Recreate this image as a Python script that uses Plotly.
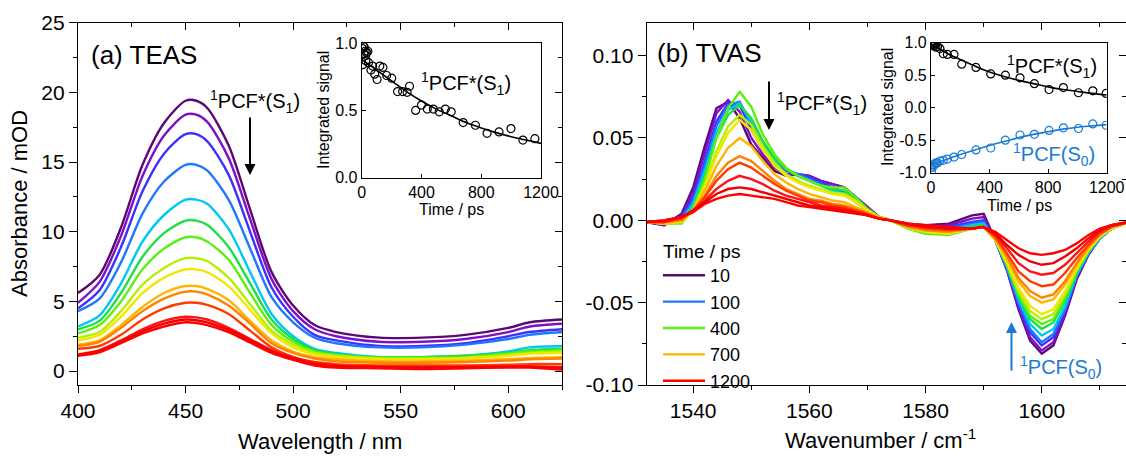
import plotly.graph_objects as go

W, H = 1126, 458
def px(x): return x / W
def py(y): return 1 - y / H

FONT = "Liberation Sans, Arial, sans-serif"

# ---------------- data: (a) TEAS ----------------
wavelength = [400, 410, 420, 430, 440, 450, 455, 460, 470, 480, 490, 500, 510, 520, 540, 560, 580, 600, 610, 625]
times = [10, 20, 50, 100, 200, 300, 400, 500, 600, 700, 800, 900, 1000, 1100, 1200]
legend_times = [10, 100, 400, 700, 1200]
colors = ['#5c0a72', '#8010c8', '#3c32ff', '#1e78ff', '#00c8f0', '#1ede46', '#5af014', '#b4f000',
          '#f5e600', '#ffb400', '#ff8200', '#ff3c00', '#ff1414', '#f00000', '#ff0000']

teas_10 = [5.6, 6.9, 10.3, 14.8, 17.8, 19.4, 19.4, 18.9, 16.2, 11.6, 7.1, 4.7, 3.3, 2.8, 2.4, 2.4, 2.6, 3.1, 3.5, 3.7]
teas_20 = [4.9, 6.4, 9.7, 14.0, 16.9, 18.4, 18.4, 17.9, 15.3, 10.9, 6.6, 4.3, 3.0, 2.5, 2.1, 2.1, 2.3, 2.8, 3.2, 3.4]
teas_50 = [4.5, 5.8, 8.9, 12.9, 15.6, 17.0, 17.0, 16.5, 14.1, 10.0, 6.0, 3.9, 2.6, 2.2, 1.8, 1.8, 2.0, 2.5, 2.8, 3.0]
teas_100 = [4.3, 5.2, 7.8, 11.3, 13.6, 14.8, 14.8, 14.4, 12.3, 8.8, 5.3, 3.5, 2.4, 2.0, 1.7, 1.7, 1.9, 2.3, 2.6, 2.8]
teas_200 = [3.2, 4.0, 6.3, 9.3, 11.2, 12.3, 12.3, 12.0, 10.2, 7.1, 4.1, 2.5, 1.6, 1.3, 1.0, 1.0, 1.1, 1.4, 1.7, 1.8]
teas_300 = [3.0, 3.6, 5.6, 8.2, 9.9, 10.8, 10.8, 10.5, 8.9, 6.3, 3.7, 2.3, 1.5, 1.2, 1.0, 1.0, 1.1, 1.3, 1.5, 1.6]
teas_400 = [2.7, 3.3, 5.0, 7.3, 8.8, 9.6, 9.6, 9.3, 8.0, 5.6, 3.3, 2.1, 1.4, 1.15, 0.95, 0.95, 1.0, 1.25, 1.4, 1.5]
teas_500 = [2.4, 2.8, 4.3, 6.2, 7.4, 8.1, 8.1, 7.9, 6.7, 4.8, 2.9, 1.9, 1.3, 1.1, 0.9, 0.9, 0.95, 1.15, 1.3, 1.4]
teas_600 = [2.2, 2.6, 3.9, 5.6, 6.7, 7.3, 7.3, 7.1, 6.1, 4.4, 2.7, 1.7, 1.2, 1.0, 0.85, 0.85, 0.9, 1.1, 1.25, 1.3]
teas_700 = [1.9, 2.2, 3.3, 4.6, 5.6, 6.1, 6.1, 5.9, 5.1, 3.6, 2.2, 1.4, 1.0, 0.85, 0.7, 0.7, 0.75, 0.85, 0.95, 1.0]
teas_800 = [1.8, 2.1, 3.1, 4.3, 5.2, 5.7, 5.7, 5.5, 4.7, 3.4, 2.0, 1.3, 0.9, 0.7, 0.6, 0.6, 0.65, 0.75, 0.85, 0.9]
teas_900 = [1.6, 1.8, 2.6, 3.7, 4.5, 4.9, 4.9, 4.75, 4.1, 2.9, 1.7, 1.0, 0.65, 0.5, 0.4, 0.4, 0.4, 0.45, 0.5, 0.5]
teas_1000 = [1.2, 1.5, 2.2, 3.0, 3.6, 3.9, 3.85, 3.7, 3.1, 2.3, 1.5, 1.0, 0.6, 0.4, 0.3, 0.3, 0.3, 0.35, 0.35, 0.3]
teas_1100 = [1.15, 1.45, 2.1, 2.85, 3.4, 3.7, 3.65, 3.5, 2.95, 2.2, 1.4, 0.9, 0.5, 0.35, 0.3, 0.25, 0.3, 0.3, 0.3, 0.2]
teas_1200 = [1.1, 1.35, 2.0, 2.7, 3.2, 3.5, 3.45, 3.3, 2.8, 2.05, 1.3, 0.8, 0.4, 0.25, 0.2, 0.15, 0.2, 0.25, 0.25, 0.1]
teas = [teas_10, teas_20, teas_50, teas_100, teas_200, teas_300, teas_400, teas_500,
        teas_600, teas_700, teas_800, teas_900, teas_1000, teas_1100, teas_1200]

# ---------------- data: (b) TVAS ----------------
wavenumber = [1532, 1535, 1538, 1540, 1542, 1544, 1546, 1548, 1550, 1552, 1554, 1556, 1558, 1560, 1562, 1564,
              1566, 1568, 1570, 1572, 1574, 1577, 1580, 1584, 1588, 1590, 1592, 1594, 1596, 1598, 1600, 1602,
              1604, 1606, 1608, 1610, 1612, 1615]
tvas_10 = [-0.001, -0.003, 0.004, 0.020, 0.045, 0.068, 0.072, 0.062, 0.046, 0.038, 0.030, 0.027, 0.028, 0.027, 0.024, 0.022, 0.020, 0.014, 0.008, 0.002, 0.000, -0.002, -0.003, -0.002, 0.003, 0.004, -0.012, -0.030, -0.054, -0.073, -0.081, -0.076, -0.058, -0.036, -0.021, -0.011, -0.005, -0.001]
tvas_20 = [-0.001, -0.003, 0.003, 0.017, 0.041, 0.065, 0.073, 0.066, 0.050, 0.040, 0.032, 0.028, 0.028, 0.027, 0.024, 0.022, 0.020, 0.014, 0.008, 0.002, 0.000, -0.003, -0.004, -0.003, 0.001, 0.002, -0.012, -0.030, -0.053, -0.071, -0.079, -0.074, -0.057, -0.035, -0.021, -0.011, -0.005, -0.001]
tvas_50 = [-0.001, -0.002, 0.002, 0.014, 0.036, 0.060, 0.071, 0.070, 0.055, 0.043, 0.034, 0.030, 0.028, 0.026, 0.023, 0.020, 0.017, 0.012, 0.007, 0.002, 0.000, -0.004, -0.005, -0.004, -0.001, 0.000, -0.012, -0.029, -0.051, -0.068, -0.076, -0.071, -0.055, -0.034, -0.020, -0.011, -0.005, -0.001]
tvas_100 = [-0.001, -0.002, 0.001, 0.012, 0.033, 0.057, 0.070, 0.072, 0.058, 0.045, 0.036, 0.031, 0.028, 0.025, 0.022, 0.019, 0.016, 0.011, 0.006, 0.002, 0.000, -0.004, -0.006, -0.005, -0.002, -0.001, -0.012, -0.029, -0.050, -0.066, -0.074, -0.069, -0.054, -0.034, -0.020, -0.011, -0.005, -0.001]
tvas_200 = [-0.001, -0.002, 0.000, 0.010, 0.030, 0.053, 0.067, 0.071, 0.060, 0.047, 0.037, 0.031, 0.027, 0.024, 0.021, 0.018, 0.016, 0.011, 0.006, 0.002, 0.000, -0.005, -0.007, -0.006, -0.003, -0.002, -0.012, -0.028, -0.048, -0.063, -0.070, -0.066, -0.052, -0.033, -0.020, -0.011, -0.005, -0.001]
tvas_300 = [-0.001, -0.002, -0.001, 0.008, 0.027, 0.050, 0.064, 0.070, 0.062, 0.048, 0.038, 0.031, 0.027, 0.024, 0.021, 0.019, 0.018, 0.012, 0.006, 0.002, 0.000, -0.005, -0.008, -0.007, -0.004, -0.003, -0.012, -0.027, -0.046, -0.060, -0.066, -0.062, -0.049, -0.032, -0.019, -0.010, -0.005, -0.001]
tvas_400 = [-0.001, -0.002, -0.002, 0.007, 0.025, 0.050, 0.068, 0.078, 0.069, 0.052, 0.040, 0.032, 0.027, 0.024, 0.021, 0.020, 0.020, 0.014, 0.007, 0.002, 0.000, -0.005, -0.008, -0.009, -0.005, -0.004, -0.012, -0.027, -0.045, -0.058, -0.063, -0.060, -0.047, -0.031, -0.019, -0.010, -0.005, -0.001]
tvas_500 = [-0.001, -0.002, -0.001, 0.006, 0.022, 0.042, 0.057, 0.064, 0.058, 0.045, 0.035, 0.028, 0.024, 0.021, 0.019, 0.017, 0.016, 0.012, 0.006, 0.002, 0.000, -0.005, -0.007, -0.008, -0.005, -0.004, -0.012, -0.026, -0.043, -0.055, -0.060, -0.057, -0.045, -0.030, -0.018, -0.010, -0.005, -0.001]
tvas_600 = [-0.001, -0.002, -0.001, 0.006, 0.020, 0.039, 0.053, 0.061, 0.055, 0.043, 0.033, 0.027, 0.023, 0.020, 0.018, 0.016, 0.015, 0.011, 0.006, 0.002, 0.000, -0.004, -0.007, -0.008, -0.005, -0.004, -0.012, -0.025, -0.041, -0.052, -0.057, -0.054, -0.043, -0.029, -0.018, -0.010, -0.005, -0.001]
tvas_700 = [-0.001, -0.002, 0.000, 0.006, 0.018, 0.033, 0.044, 0.050, 0.045, 0.036, 0.028, 0.023, 0.019, 0.016, 0.014, 0.012, 0.011, 0.008, 0.005, 0.002, 0.000, -0.004, -0.006, -0.007, -0.005, -0.004, -0.011, -0.023, -0.037, -0.046, -0.050, -0.048, -0.039, -0.027, -0.017, -0.009, -0.004, -0.001]
tvas_800 = [-0.001, -0.001, 0.000, 0.006, 0.015, 0.027, 0.035, 0.039, 0.036, 0.030, 0.024, 0.019, 0.016, 0.013, 0.012, 0.010, 0.009, 0.007, 0.004, 0.001, 0.000, -0.004, -0.006, -0.007, -0.005, -0.004, -0.011, -0.022, -0.035, -0.043, -0.047, -0.045, -0.037, -0.026, -0.016, -0.009, -0.004, -0.001]
tvas_900 = [-0.001, -0.001, 0.001, 0.006, 0.014, 0.024, 0.031, 0.035, 0.032, 0.027, 0.022, 0.018, 0.015, 0.012, 0.011, 0.009, 0.008, 0.006, 0.004, 0.001, 0.000, -0.003, -0.005, -0.006, -0.005, -0.004, -0.010, -0.020, -0.031, -0.037, -0.040, -0.039, -0.032, -0.023, -0.015, -0.008, -0.004, -0.001]
tvas_1000 = [-0.001, -0.001, 0.002, 0.006, 0.012, 0.019, 0.024, 0.027, 0.025, 0.022, 0.018, 0.015, 0.013, 0.011, 0.009, 0.008, 0.007, 0.005, 0.003, 0.001, 0.000, -0.003, -0.004, -0.005, -0.005, -0.004, -0.009, -0.017, -0.026, -0.031, -0.033, -0.032, -0.027, -0.020, -0.013, -0.007, -0.003, -0.001]
tvas_1100 = [-0.001, 0.000, 0.002, 0.006, 0.011, 0.016, 0.019, 0.020, 0.019, 0.017, 0.015, 0.013, 0.011, 0.009, 0.008, 0.007, 0.006, 0.005, 0.003, 0.001, 0.000, -0.002, -0.004, -0.005, -0.005, -0.004, -0.008, -0.015, -0.021, -0.025, -0.027, -0.026, -0.022, -0.017, -0.011, -0.006, -0.003, -0.001]
tvas_1200 = [-0.001, 0.000, 0.002, 0.005, 0.010, 0.013, 0.015, 0.016, 0.015, 0.014, 0.013, 0.011, 0.009, 0.008, 0.007, 0.006, 0.005, 0.004, 0.003, 0.001, 0.000, -0.002, -0.003, -0.004, -0.005, -0.004, -0.007, -0.012, -0.017, -0.020, -0.021, -0.020, -0.018, -0.014, -0.009, -0.005, -0.003, -0.001]
tvas = [tvas_10, tvas_20, tvas_50, tvas_100, tvas_200, tvas_300, tvas_400, tvas_500,
        tvas_600, tvas_700, tvas_800, tvas_900, tvas_1000, tvas_1100, tvas_1200]

# ---------------- inset data ----------------
teas_kin_t = [5, 11, 14, 18, 23, 27, 34, 41, 7, 27, 46, 62, 73, 87, 103, 121, 142, 167, 201, 240, 274, 304, 320,
              361, 400, 439, 480, 519, 560, 599, 679, 761, 839, 919, 999, 1079, 1159]
teas_kin = [0.96, 0.98, 0.92, 0.97, 0.94, 0.91, 0.93, 0.94, 0.84, 0.87, 0.855, 0.80, 0.83, 0.77, 0.73, 0.83, 0.82,
            0.76, 0.74, 0.64, 0.64, 0.635, 0.68, 0.50, 0.54, 0.51, 0.51, 0.49, 0.51, 0.49, 0.41, 0.39, 0.33, 0.34,
            0.365, 0.28, 0.29]
fit_t = [0, 100, 200, 300, 400, 500, 600, 700, 800, 900, 1000, 1100, 1200]
teas_fit = [0.88, 0.80, 0.72, 0.64, 0.57, 0.51, 0.46, 0.41, 0.37, 0.335, 0.305, 0.28, 0.255]

tvas_kin_t = [3, 8, 14, 20, 27, 34, 45, 61, 84, 112, 157, 210, 307, 408, 508, 608, 706, 806, 904, 1007, 1105, 1196]
tvas_s1 = [0.99, 0.97, 0.98, 0.95, 0.96, 0.93, 0.94, 0.91, 0.83, 0.82, 0.82, 0.67, 0.62, 0.52, 0.50, 0.46, 0.37,
           0.28, 0.31, 0.23, 0.26, 0.22]
tvas_s0 = [-0.99, -0.92, -0.90, -0.88, -0.86, -0.85, -0.85, -0.82, -0.81, -0.79, -0.76, -0.72, -0.65, -0.62,
           -0.50, -0.42, -0.41, -0.35, -0.31, -0.32, -0.25, -0.27]
tvas_s1_fit = [0.98, 0.85, 0.74, 0.64, 0.55, 0.48, 0.42, 0.37, 0.32, 0.28, 0.25, 0.22, 0.195]
tvas_s0_fit = [-0.88, -0.80, -0.72, -0.65, -0.58, -0.52, -0.46, -0.41, -0.37, -0.33, -0.30, -0.28, -0.26]

# tick labels
b_yticks = [-0.10, -0.05, 0.0, 0.05, 0.10]
b_yticktext = ["-0.10", "-0.05", "0.00", "0.05", "0.10"]
ia_yticks = [0.0, 0.5, 1.0]
ia_yticktext = ["0.0", "0.5", "1.0"]
ib_yticks = [-1.0, -0.5, 0.0, 0.5, 1.0]
ib_yticktext = ["-1.0", "-0.5", "0.0", "0.5", "1.0"]

BLUE = '#1a7ad4'

fig = go.Figure()

for t, c, ys in zip(times, colors, teas):
    fig.add_trace(go.Scatter(x=wavelength, y=ys, mode='lines', line=dict(color=c, width=2.4, shape='spline', smoothing=0.8),
                             xaxis='x', yaxis='y', showlegend=False, hoverinfo='skip'))

for t, c, ys in zip(times, colors, tvas):
    fig.add_trace(go.Scatter(x=wavenumber, y=ys, mode='lines', line=dict(color=c, width=2.4),
                             xaxis='x2', yaxis='y2', name=str(t), showlegend=(t in legend_times), hoverinfo='skip'))

# inset a
fig.add_trace(go.Scatter(x=teas_kin_t, y=teas_kin, mode='markers', xaxis='x5', yaxis='y5', showlegend=False,
                         marker=dict(symbol='circle-open', size=8, color='black', line=dict(width=1.2))))
fig.add_trace(go.Scatter(x=fit_t, y=teas_fit, mode='lines', xaxis='x5', yaxis='y5', showlegend=False,
                         line=dict(color='black', width=1.6, shape='spline')))
# inset b
fig.add_trace(go.Scatter(x=tvas_kin_t, y=tvas_s1, mode='markers', xaxis='x6', yaxis='y6', showlegend=False,
                         marker=dict(symbol='circle-open', size=8, color='black', line=dict(width=1.2))))
fig.add_trace(go.Scatter(x=fit_t, y=tvas_s1_fit, mode='lines', xaxis='x6', yaxis='y6', showlegend=False,
                         line=dict(color='black', width=1.6, shape='spline')))
fig.add_trace(go.Scatter(x=tvas_kin_t, y=tvas_s0, mode='markers', xaxis='x6', yaxis='y6', showlegend=False,
                         marker=dict(symbol='circle-open', size=8, color=BLUE, line=dict(width=1.2))))
fig.add_trace(go.Scatter(x=fit_t, y=tvas_s0_fit, mode='lines', xaxis='x6', yaxis='y6', showlegend=False,
                         line=dict(color=BLUE, width=1.6, shape='spline')))

# empty traces to register mirror (tick-only) axes
for xa, ya in [('x3', 'y'), ('x', 'y3'), ('x4', 'y2'), ('x2', 'y4')]:
    fig.add_trace(go.Scatter(x=[], y=[], xaxis=xa, yaxis=ya, showlegend=False))

tickfont = dict(family=FONT, size=21, color='black')
insetfont = dict(family=FONT, size=16, color='black')
LW = 1.3

def main_ax(**kw):
    d = dict(showgrid=False, zeroline=False, showline=True, linecolor='black', linewidth=LW, automargin=False,
             ticks='outside', tickcolor='black', tickwidth=LW, ticklen=7, tickfont=tickfont)
    d.update(kw)
    return d

def mirror_ax(**kw):
    d = dict(showgrid=False, zeroline=False, showline=False, showticklabels=False, automargin=False,
             ticks='inside', tickcolor='black', tickwidth=LW, ticklen=7)
    d.update(kw)
    return d

def inset_ax(**kw):
    d = dict(showgrid=False, zeroline=False, showline=True, mirror=True, linecolor='black', linewidth=1.1,
             ticks='inside', ticklen=4, tickcolor='black', tickfont=insetfont, automargin=False)
    d.update(kw)
    return d

ya_dom = [py(385), py(22.7)]
fig.update_layout(
    width=W, height=H, autosize=False, margin=dict(l=0, r=0, t=0, b=0, pad=0, autoexpand=False),
    paper_bgcolor='white', plot_bgcolor='rgba(0,0,0,0)',
    font=dict(family=FONT, color='black'),
    xaxis=main_ax(domain=[px(78), px(562)], range=[400, 625], anchor='y', tick0=400, dtick=50, mirror=True,
                  minor=dict(tick0=400, dtick=25, ticks='outside', ticklen=4, tickwidth=LW, tickcolor='black')),
    yaxis=main_ax(domain=ya_dom, range=[-1, 25], anchor='x', tick0=0, dtick=5, mirror=True, ticklen=8,
                  minor=dict(tick0=0, dtick=2.5, ticks='outside', ticklen=4, tickwidth=LW, tickcolor='black')),
    xaxis3=mirror_ax(overlaying='x', anchor='y', side='top', range=[400, 625], tick0=400, dtick=50,
                     minor=dict(tick0=400, dtick=25, ticks='inside', ticklen=4, tickwidth=LW, tickcolor='black')),
    yaxis3=mirror_ax(overlaying='y', anchor='x', side='right', range=[-1, 25], tick0=0, dtick=5,
                     minor=dict(tick0=0, dtick=2.5, ticks='inside', ticklen=4, tickwidth=LW, tickcolor='black')),
    xaxis2=main_ax(domain=[px(646.7), 1.0], range=[1532, 1614.5], anchor='y2', tick0=1540, dtick=20, mirror=True,
                   minor=dict(tick0=1540, dtick=10, ticks='outside', ticklen=4, tickwidth=LW, tickcolor='black')),
    yaxis2=main_ax(domain=ya_dom, range=[-0.1, 0.12], anchor='x2', tickmode='array', tickvals=b_yticks,
                   ticktext=b_yticktext, ticklen=8,
                   minor=dict(tick0=0, dtick=0.025, ticks='outside', ticklen=4, tickwidth=LW, tickcolor='black')),
    xaxis4=mirror_ax(overlaying='x2', anchor='y2', side='top', range=[1532, 1614.5], tick0=1540, dtick=20,
                     minor=dict(tick0=1540, dtick=10, ticks='inside', ticklen=4, tickwidth=LW, tickcolor='black')),
    yaxis4=mirror_ax(overlaying='y2', anchor='x2', side='right', range=[-0.1, 0.12], tick0=0, dtick=0.05,
                     minor=dict(tick0=0, dtick=0.025, ticks='inside', ticklen=4, tickwidth=LW, tickcolor='black')),
    xaxis5=inset_ax(domain=[px(361.7), px(541)], range=[0, 1200], anchor='y5', tick0=0, dtick=400),
    yaxis5=inset_ax(domain=[py(177.7), py(43.2)], range=[0, 1], anchor='x5', tickmode='array', tickvals=ia_yticks,
                    ticktext=ia_yticktext),
    xaxis6=inset_ax(domain=[px(931), px(1106.7)], range=[0, 1200], anchor='y6', tick0=0, dtick=400),
    yaxis6=inset_ax(domain=[py(172.7), py(42.7)], range=[-1, 1], anchor='x6', tickmode='array', tickvals=ib_yticks,
                    ticktext=ib_yticktext),
    legend=dict(x=px(658), y=py(257), xanchor='left', yanchor='top', bgcolor='rgba(0,0,0,0)',
                font=dict(family=FONT, size=18, color='black'), tracegroupgap=0, itemwidth=42),
)

ann = []
def label(text, x, y, size, color='black', xanchor='left', angle=0):
    ann.append(dict(text=text, x=px(x), y=py(y), xref='paper', yref='paper', showarrow=False,
                    xanchor=xanchor, yanchor='middle', textangle=angle,
                    font=dict(family=FONT, size=size, color=color)))

label('Absorbance / mOD', 20, 204, 22, xanchor='center', angle=-90)
label('Wavelength / nm', 320, 441, 22, xanchor='center')
label('Wavenumber / cm<sup>-1</sup>', 880, 439, 22, xanchor='center')
label('Integrated signal', 323, 110, 16, xanchor='center', angle=-90)
label('Time / ps', 451, 209, 16, xanchor='center')
label('Integrated signal', 888, 107, 16, xanchor='center', angle=-90)
label('Time / ps', 1019, 205, 16, xanchor='center')
label('Time / ps', 661, 251, 19)
label('(a) TEAS', 89, 55, 26)
label('(b) TVAS', 655, 53, 26)
label('<sup>1</sup>PCF*(S<sub>1</sub>)', 208, 102, 20)
label('<sup>1</sup>PCF*(S<sub>1</sub>)', 419, 84, 20)
label('<sup>1</sup>PCF*(S<sub>1</sub>)', 775, 104, 20)
label('<sup>1</sup>PCF*(S<sub>1</sub>)', 1005, 66, 20)
label('<sup>1</sup>PCF(S<sub>0</sub>)', 1011, 155, 20, color=BLUE)
label('<sup>1</sup>PCF(S<sub>0</sub>)', 1018, 367, 20, color=BLUE)

def arrow(x, y_tip, dy, color):
    ann.append(dict(text='', x=px(x), y=py(y_tip), xref='paper', yref='paper', showarrow=True,
                    ax=0, ay=dy, arrowhead=2, arrowsize=1.1, arrowwidth=2, arrowcolor=color))

arrow(250, 175, -59, 'black')
arrow(769, 130, -50, 'black')
arrow(1011.5, 322, 50, BLUE)

fig.update_layout(annotations=ann)
fig.write_html("out.html", config={'displayModeBar': False},
               post_script="document.body.style.margin='0';document.body.style.padding='0';")
